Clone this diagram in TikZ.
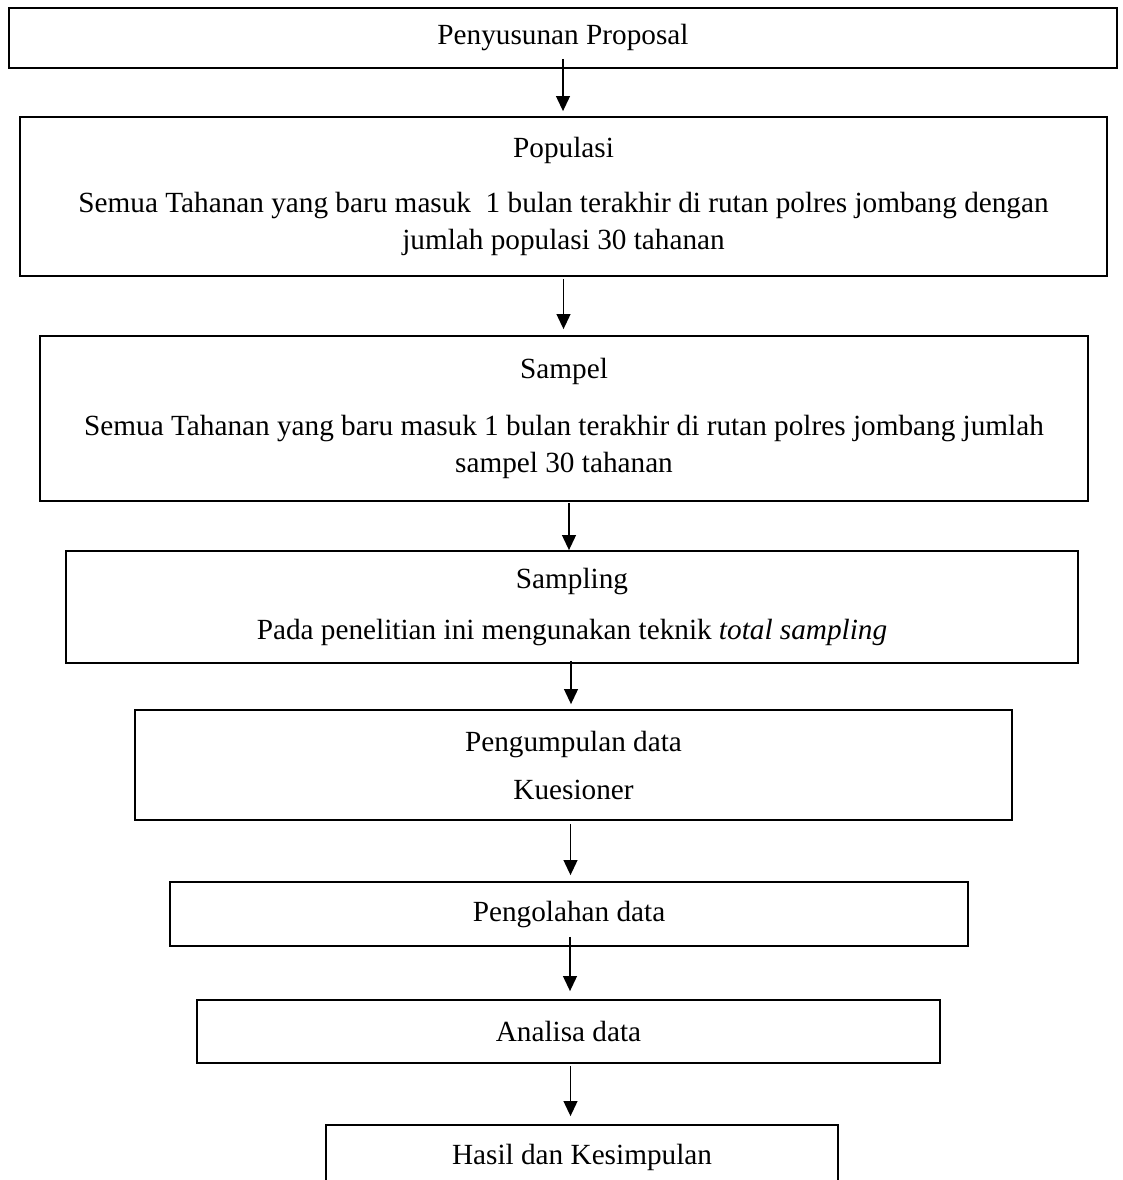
\documentclass[tikz,border=0pt]{standalone}
\usepackage{fontspec}
\setmainfont{Liberation Serif}
\usetikzlibrary{calc,arrows.meta}

\begin{document}
\begin{tikzpicture}[x=0.4pt,y=-0.4pt,
		box/.style={draw, line width=0.7pt, rectangle, inner sep=0pt, align=center, font=\fontsize{11.7}{14.8}\selectfont},
		arr/.style={line width=0.7pt, -{Triangle[width=5.5pt,length=6pt]}}]
		%%%%% START %%%%%
		
		\useasboundingbox (0,0) rectangle (1122,1180);
		
		\node[box, minimum width=443.2pt, minimum height=24pt] (pp) at (563,38) {\raisebox{-1.5pt}{Penyusunan Proposal}};
		
		\node[box, minimum width=434.8pt, minimum height=63.6pt] (pop) at (563.5,196.5) {Populasi\\[7.4pt]
			Semua Tahanan yang baru masuk\ \ 1 bulan terakhir di rutan polres jombang dengan\\
			jumlah populasi 30 tahanan};
		
		\node[box, minimum width=419.2pt, minimum height=66pt] (smp) at (564,418.5) {Sampel\\[7.8pt]
			Semua Tahanan yang baru masuk 1 bulan terakhir di rutan polres jombang jumlah\\
			sampel 30 tahanan};
		
		\node[box, minimum width=404.8pt, minimum height=44.8pt] (spl) at (572,607) {\raisebox{-2pt}{Sampling}\\[7.8pt]
			Pada penelitian ini mengunakan teknik \textit{total sampling}};
		
		\node[box, minimum width=350.8pt, minimum height=44pt] (pgd) at (573.5,765) {\raisebox{-2pt}{Pengumpulan data}\\[6.4pt]
			Kuesioner};
		
		\node[box, minimum width=319.2pt, minimum height=25.6pt] (pgl) at (569,914) {Pengolahan data};
		
		\node[box, minimum width=297.2pt, minimum height=25.2pt] (ana) at (568.5,1031.5) {Analisa data};
		
		\node[box, minimum width=204.8pt, minimum height=26pt] (hsl) at (582,1157.5) {Hasil dan Kesimpulan};
		
		\draw[arr] ($(pp.south)+(0,-10)$) -- ($(pp.south |- pop.north)+(0,-5)$);
		\draw[arr] ($(pop.south)+(0,2)$) -- ($(pop.south |- smp.north)+(0,-6)$);
		\draw[arr] ($(smp.south)+(5,1)$) -- ($(smp.south |- spl.north)+(5,0)$);
		\draw[arr] ($(spl.south)+(-1,-3)$) -- ($(spl.south |- pgd.north)+(-1,-5)$);
		\draw[arr] ($(pgd.south)+(-3,3)$) -- ($(pgd.south |- pgl.north)+(-3,-6)$);
		\draw[arr] ($(pgl.south)+(1,-10)$) -- ($(pgl.south |- ana.north)+(1,-8)$);
		\draw[arr] ($(ana.south)+(2,2)$) -- ($(ana.south |- hsl.north)+(2,-8)$);
		
		%%%%% END %%%%%
	\end{tikzpicture}
\end{document}
